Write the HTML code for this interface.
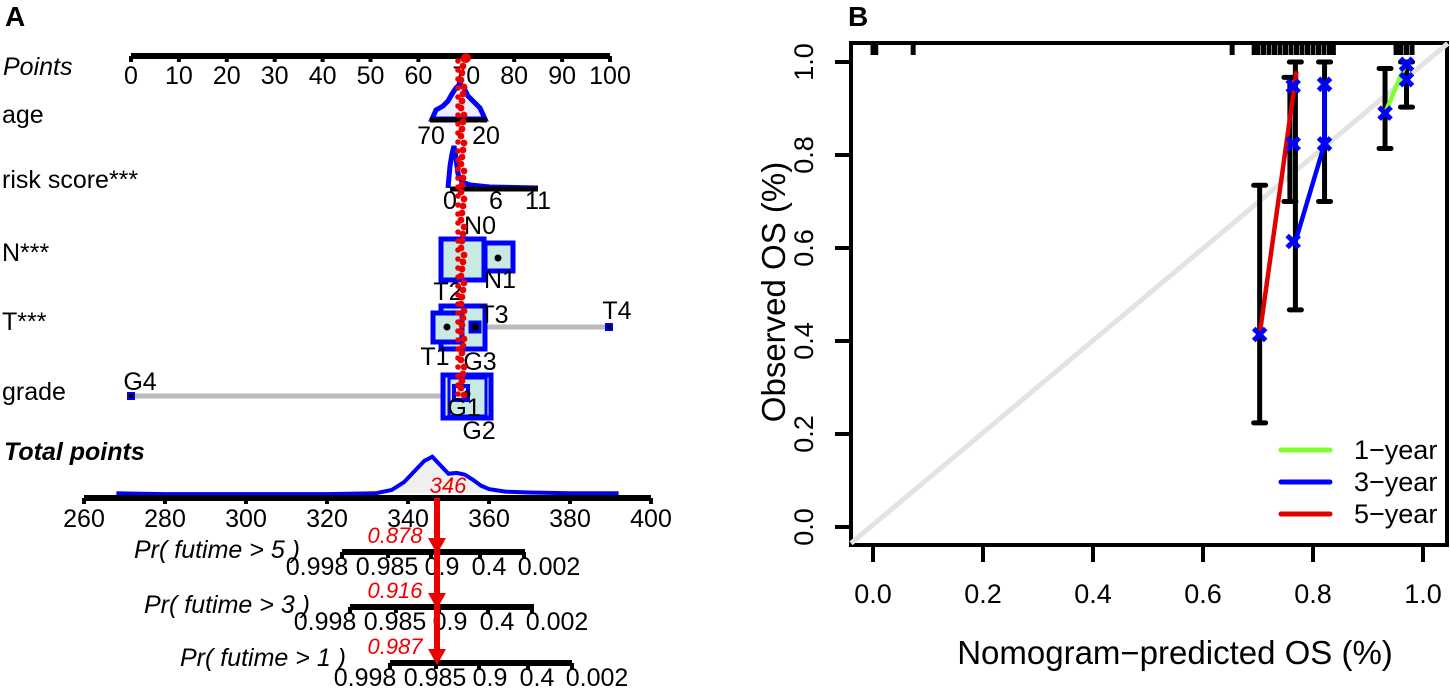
<!DOCTYPE html>
<html><head><meta charset="utf-8"><style>
body{margin:0;background:#fff;width:1450px;height:690px;overflow:hidden}
svg{font-family:"Liberation Sans",Arial,sans-serif}
</style></head><body>
<svg id="fig" width="1450" height="690" viewBox="0 0 1450 690">
<text x="5" y="26" font-size="28" font-weight="bold">A</text>
<text x="848" y="26" font-size="28" font-weight="bold">B</text>
<g id="nomo"></g>
<g id="calib"></g>
</svg>
<script>
const NS="http://www.w3.org/2000/svg";
function mk(p,t,a,txt){const e=document.createElementNS(NS,t);for(const k in a)e.setAttribute(k,a[k]);if(txt!==undefined)e.textContent=txt;p.appendChild(e);return e;}

// ---- Nomogram data ----
const pointsTicks=[0,10,20,30,40,50,60,70,80,90,100];
const totalTicks=[260,280,300,320,340,360,380,400];
const prTickLabels=["0.998","0.985","0.9","0.4","0.002"];
const rowLabels=["age","risk score***","N***","T***","grade"];
const totalDensityX=[268,280,300,320,332,336,339,342,344,346,348,350,352,354,356,358,360,364,370,380,392];
const totalDensityY=[0.02,0.01,0.01,0.01,0.02,0.06,0.15,0.3,0.4,0.45,0.35,0.25,0.26,0.24,0.18,0.11,0.07,0.04,0.03,0.02,0.02];
const predicted=["0.878","0.916","0.987"];

const FS=25;
const nomo=document.getElementById('nomo');
const px=v=>131+(v/100)*479;
const tx=v=>84+(v-260)/140*567;
// Points axis
let e=mk(nomo,'line',{x1:px(0),x2:px(100),y1:56,y2:56,stroke:'#000','stroke-width':6});

mk(nomo,'text',{x:3,y:75,'font-size':FS,'font-style':'italic'},'Points');
pointsTicks.forEach(v=>{mk(nomo,'line',{x1:px(v),x2:px(v),y1:56,y2:62,stroke:'#000','stroke-width':4});
 const t=mk(nomo,'text',{x:px(v),y:84,'font-size':FS,'text-anchor':'middle'},v);
 });
const rowY=[123,188,261,330,400];
rowLabels.forEach((l,i)=>{const t=mk(nomo,'text',{x:2,y:rowY[i],'font-size':FS},l);
 });
// age
mk(nomo,'path',{d:'M432 119 L436 110 L443 106 L448 101 L452 94 L456 88 L460 84 L464 88 L468 96 L474 102 L480 108 L485 119 Z',fill:'#eef',stroke:'#00f','stroke-width':5});
mk(nomo,'line',{x1:430,x2:487,y1:120,y2:120,stroke:'#000','stroke-width':5});
mk(nomo,'text',{x:431,y:144,'font-size':FS,'text-anchor':'middle'},'70');
mk(nomo,'text',{x:486,y:144,'font-size':FS,'text-anchor':'middle'},'20');
// risk
mk(nomo,'path',{d:'M448 188 L450 166 L452 154 L454 146 L456 158 L458 174 L462 182 L470 185 L490 187 L538 188',fill:'none',stroke:'#00f','stroke-width':5});
mk(nomo,'line',{x1:450,x2:538,y1:189,y2:189,stroke:'#000','stroke-width':5});
[['0',450],['6',496],['11',538]].forEach(a=>mk(nomo,'text',{x:a[1],y:209,'font-size':FS,'text-anchor':'middle'},a[0]));
// N
mk(nomo,'rect',{x:441,y:239,width:43,height:41,fill:'#c8eae2',stroke:'#00f','stroke-width':5});
mk(nomo,'rect',{x:485,y:243,width:28,height:28,fill:'#c8eae2',stroke:'#00f','stroke-width':5});
mk(nomo,'circle',{cx:498,cy:258,r:3.5,fill:'#000'});
mk(nomo,'text',{x:480,y:234,'font-size':FS,'text-anchor':'middle'},'N0');
mk(nomo,'text',{x:500,y:288,'font-size':FS,'text-anchor':'middle'},'N1');
// T
mk(nomo,'line',{x1:486,x2:609,y1:327,y2:327,stroke:'#bbb','stroke-width':5});
mk(nomo,'rect',{x:441,y:306,width:44,height:43,fill:'#c8eae2',stroke:'#00f','stroke-width':5});
mk(nomo,'rect',{x:433,y:313,width:29,height:29,fill:'#c8eae2',stroke:'#00f','stroke-width':5});
mk(nomo,'circle',{cx:447,cy:327,r:3.5,fill:'#000'});
mk(nomo,'rect',{x:470,y:322,width:10,height:10,fill:'#000',stroke:'#00f','stroke-width':3});
mk(nomo,'rect',{x:606,y:324,width:6,height:6,fill:'#000',stroke:'#00f','stroke-width':2});
mk(nomo,'text',{x:448,y:300,'font-size':FS,'text-anchor':'middle'},'T2');
mk(nomo,'text',{x:494,y:323,'font-size':FS,'text-anchor':'middle'},'T3');
mk(nomo,'text',{x:617,y:319,'font-size':FS,'text-anchor':'middle'},'T4');
mk(nomo,'text',{x:435,y:365,'font-size':FS,'text-anchor':'middle'},'T1');
// grade
mk(nomo,'line',{x1:131,x2:442,y1:396,y2:396,stroke:'#bbb','stroke-width':5});
mk(nomo,'rect',{x:128,y:393,width:6,height:6,fill:'#000',stroke:'#00f','stroke-width':2});
mk(nomo,'rect',{x:443,y:375,width:48,height:43,fill:'#c8eae2',stroke:'#00f','stroke-width':5});
mk(nomo,'rect',{x:449,y:378,width:37,height:38,fill:'none',stroke:'#00f','stroke-width':3});
mk(nomo,'rect',{x:454,y:386,width:14,height:14,fill:'#c8eae2',stroke:'#00f','stroke-width':4});
mk(nomo,'circle',{cx:467,cy:394,r:3.5,fill:'#000'});
mk(nomo,'text',{x:140,y:390,'font-size':FS,'text-anchor':'middle'},'G4');
mk(nomo,'text',{x:480,y:370,'font-size':FS,'text-anchor':'middle'},'G3');
mk(nomo,'text',{x:464,y:416,'font-size':FS,'text-anchor':'middle'},'G1');
mk(nomo,'text',{x:479,y:439,'font-size':FS,'text-anchor':'middle'},'G2');
// red dotted line
for(let y=59;y<=396;y+=7){mk(nomo,'circle',{cx:461+(y%4),cy:y,r:3.4,fill:'#e00'});}
for(let y=61;y<=396;y+=9){mk(nomo,'circle',{cx:457+(y%3),cy:y,r:2.8,fill:'#e00'});}
mk(nomo,'circle',{cx:466,cy:58,r:5,fill:'#e00'});
// Total points
mk(nomo,'text',{x:4,y:460,'font-size':FS,'font-weight':'bold','font-style':'italic'},'Total points');
let dd='';totalDensityX.forEach((v,i)=>{dd+=(i?'L':'M')+tx(v)+' '+(495-totalDensityY[i]*85)+' ';});
e=mk(nomo,'path',{d:dd,fill:'#f0f0f0',stroke:'#00f','stroke-width':4});

mk(nomo,'line',{x1:tx(260),x2:tx(400),y1:498,y2:498,stroke:'#000','stroke-width':6});
totalTicks.forEach(v=>{mk(nomo,'line',{x1:tx(v),x2:tx(v),y1:498,y2:504,stroke:'#000','stroke-width':4});
 mk(nomo,'text',{x:tx(v),y:527,'font-size':FS,'text-anchor':'middle'},v);});
mk(nomo,'text',{x:448,y:493,'font-size':22,'font-style':'italic',fill:'#e00','text-anchor':'middle'},'346');
// Pr axes
const prAx=[{y:552,x0:342,x1:525,lbl:'Pr( futime > 5 )',lr:300,ly:558},{y:607,x0:350,x1:534,lbl:'Pr( futime > 3 )',lr:310,ly:613},{y:663,x0:390,x1:572,lbl:'Pr( futime > 1 )',lr:346,ly:666}];
const prLblOff=[-25,45,100,147,207];
const prTickOff=[0,46,89,138,182];
prAx.forEach((a,i)=>{
 mk(nomo,'line',{x1:a.x0,x2:a.x1,y1:a.y,y2:a.y,stroke:'#000','stroke-width':6});
 prTickOff.forEach(o=>mk(nomo,'line',{x1:a.x0+o,x2:a.x0+o,y1:a.y,y2:a.y+6,stroke:'#000','stroke-width':4}));
 mk(nomo,'text',{x:a.lr,y:a.ly,'font-size':FS,'font-style':'italic','text-anchor':'end'},a.lbl);
 prTickLabels.forEach((l,j)=>{mk(nomo,'text',{x:a.x0+prLblOff[j],y:a.y+23,'font-size':FS,'text-anchor':'middle'},l);});
 mk(nomo,'text',{x:395,y:a.y-9,'font-size':22,'font-style':'italic',fill:'#e00','text-anchor':'middle'},predicted[i]);
});
mk(nomo,'line',{x1:437,x2:437,y1:498,y2:660,stroke:'#e00','stroke-width':6});
[552,607,663].forEach(y=>mk(nomo,'path',{d:`M428 ${y-14} L446 ${y-14} L437 ${y+2} Z`,fill:'#e00'}));

// ---- Calibration data ----
const xTicks=[0.0,0.2,0.4,0.6,0.8,1.0];
const yTicks=[0.0,0.2,0.4,0.6,0.8,1.0];
const year5X=[0.703,0.77];
const year5Y=[0.414,0.98];
const year3X=[0.768,0.821,0.821];
const year3Y=[0.614,0.824,0.952];
const year1X=[0.931,0.97];
const year1Y=[0.89,1.0];
const markX=[0.703,0.764,0.764,0.764,0.821,0.821,0.931,0.97,0.97];
const markY=[0.414,0.614,0.824,0.948,0.824,0.952,0.89,0.995,0.962];
const errX=[0.703,0.758,0.768,0.821,0.931,0.97];
const errLo=[0.224,0.70,0.467,0.70,0.814,0.903];
const errHi=[0.735,0.967,1.0,1.0,0.986,1.0];
const rugX=[0.0,0.005,0.073,0.653,0.693,0.70,0.71,0.72,0.73,0.74,0.75,0.76,0.77,0.78,0.79,0.80,0.81,0.82,0.83,0.837,0.951,0.96,0.97,0.98];

const cg=document.getElementById('calib');
const X=v=>873+v*550, Y=v=>527-v*465;
const CF=27;
mk(cg,'rect',{x:851,y:43,width:596,height:502,fill:'none',stroke:'#000','stroke-width':4});
e=mk(cg,'line',{x1:X(-0.04),y1:Y(-0.035),x2:X(1.045),y2:Y(1.04),stroke:'#e3e3e3','stroke-width':5});

xTicks.forEach(v=>{mk(cg,'line',{x1:X(v),x2:X(v),y1:545,y2:562,stroke:'#000','stroke-width':4});
 const t=mk(cg,'text',{x:X(v),y:603,'font-size':CF,'text-anchor':'middle'},v.toFixed(1));
 });
yTicks.forEach(v=>{mk(cg,'line',{x1:835,x2:851,y1:Y(v),y2:Y(v),stroke:'#000','stroke-width':4});
 const t=mk(cg,'text',{x:0,y:0,'font-size':CF,'text-anchor':'middle',transform:`translate(813 ${Y(v)}) rotate(-90)`},v.toFixed(1));
 });
e=mk(cg,'text',{x:0,y:0,'font-size':33,'text-anchor':'middle',transform:'translate(785 292) rotate(-90)'},'Observed OS (%)');

e=mk(cg,'text',{x:1175,y:664,'font-size':33,'text-anchor':'middle'},'Nomogram\u2212predicted OS (%)');

rugX.forEach(v=>mk(cg,'line',{x1:X(v),x2:X(v),y1:45,y2:55,stroke:'#000','stroke-width':5}));
errX.forEach((v,i)=>{
 e=mk(cg,'line',{x1:X(v),x2:X(v),y1:Y(errLo[i]),y2:Y(errHi[i]),stroke:'#000','stroke-width':5});
 
 [errLo[i],errHi[i]].forEach(w=>mk(cg,'line',{x1:X(v)-6,x2:X(v)+6,y1:Y(w),y2:Y(w),stroke:'#000','stroke-width':5,'stroke-linecap':'round'}));
});
function series(xs,ys,col,name){let d='';xs.forEach((v,i)=>{d+=(i?'L':'M')+X(v)+' '+Y(ys[i])+' ';});
 const p=mk(cg,'path',{d:d,fill:'none',stroke:col,'stroke-width':4.5});
 }
series(year1X,year1Y,'#80ff30','line-1-year');
series(year5X,year5Y,'#e00000','line-5-year');
series(year3X,year3Y,'#0000ff','line-3-year');
markX.forEach((v,i)=>{const x=X(v),y=Y(markY[i]);
 const m=mk(cg,'path',{d:`M${x-6} ${y-6}L${x+6} ${y+6}M${x+6} ${y-6}L${x-6} ${y+6}`,stroke:'#00f','stroke-width':5});
 });
// legend
const legLbl=['1\u2212year','3\u2212year','5\u2212year'],legCol=['#80ff30','#0000ff','#e00000'];
legLbl.forEach((l,i)=>{const y=450+i*32;
 const g=mk(cg,'g',{});
 mk(g,'line',{x1:1281,x2:1330,y1:y,y2:y,stroke:legCol[i],'stroke-width':5,'stroke-linecap':'round'});
 mk(g,'text',{x:1354,y:y+9,'font-size':CF},l);});
</script>
</body></html>
